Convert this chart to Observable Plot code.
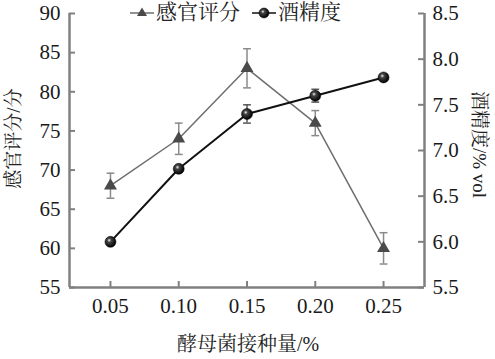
<!DOCTYPE html>
<html>
<head>
<meta charset="utf-8">
<script src="https://cdn.jsdelivr.net/npm/d3@7"></script>
<script src="https://cdn.jsdelivr.net/npm/@observablehq/plot@0.6"></script>
<style>
  html, body { margin: 0; padding: 0; background: #fff; }
  #wrap { position: relative; width: 495px; height: 359px; }
  #wrap svg text { font-family: 'Liberation Serif', 'Noto Serif CJK SC', serif !important; }
  #legend { position: absolute; top: -3px; left: 128px; display: flex; align-items: center;
    font-family: 'Liberation Serif', 'Noto Serif CJK SC', serif; font-size: 21px; line-height: 30px; color: #222; }
  #legend span { display: inline-flex; align-items: center; }
</style>
</head>
<body>
<div id="wrap"></div>
<script>
// Data
const doses = [0.05, 0.10, 0.15, 0.20, 0.25];
const sensory = [68, 74, 83, 76, 60];
const sensoryErr = [1.6, 2.0, 2.5, 1.6, 2.0];
const alcohol = [6.0, 6.8, 7.4, 7.6, 7.8];
const alcoholErr = [0.03, 0.03, 0.1, 0.07, 0.03];
const leftTicks = [55, 60, 65, 70, 75, 80, 85, 90];
const rightTicks = [5.5, 6.0, 6.5, 7.0, 7.5, 8.0, 8.5];
const xTicks = [0.05, 0.10, 0.15, 0.20, 0.25];
const labels = { x: "酵母菌接种量/%", yLeft: "感官评分/分", yRight: "酒精度/% vol", s1: "感官评分", s2: "酒精度" };

// Map right-axis (alcohol) values onto the left scale
const toLeft = v => 55 + (v - 5.5) * 35 / 3;

const sData = doses.map((x, i) => ({x, y: sensory[i], lo: sensory[i] - sensoryErr[i], hi: sensory[i] + sensoryErr[i]}));
const aData = doses.map((x, i) => ({x, y: toLeft(alcohol[i]), lo: toLeft(alcohol[i] - alcoholErr[i]), hi: toLeft(alcohol[i] + alcoholErr[i])}));

const W = 495, H = 359, mL = 69, mR = 71, mT = 13, mB = 72;
const pw = W - mL - mR, ph = H - mT - mB;

const cap = { draw(ctx, size) { const w = Math.sqrt(size); ctx.moveTo(-w, 0); ctx.lineTo(w, 0); } };
const axisColor = "#808080";
const font = "'Liberation Serif', 'Noto Serif CJK SC', serif";

const plot = Plot.plot({
  width: W, height: H,
  marginLeft: mL, marginRight: mR, marginTop: mT, marginBottom: mB,
  style: { fontFamily: font, fontSize: "20px", color: "#222", background: "#fff", overflow: "visible" },
  x: { domain: [0.02, 0.28] },
  y: { domain: [55, 90] },
  marks: [
    // axis lines
    Plot.ruleX([0.02], { stroke: axisColor, strokeWidth: 2.5 }),
    Plot.ruleX([0.28], { stroke: axisColor, strokeWidth: 2.5 }),
    Plot.ruleY([55], { stroke: axisColor, strokeWidth: 2.5 }),
    // inward ticks
    Plot.tickY(leftTicks, { y: d => d, stroke: axisColor, strokeWidth: 2, insetRight: pw - 6 }),
    Plot.tickY(rightTicks.map(toLeft), { y: d => d, stroke: axisColor, strokeWidth: 2, insetLeft: pw - 6 }),
    Plot.tickX(xTicks, { x: d => d, stroke: axisColor, strokeWidth: 2, insetTop: ph - 6 }),
    // tick labels
    Plot.axisY({ anchor: "left", ticks: leftTicks, tickSize: 0, tickPadding: 9, label: null, fontSize: 21, fill: "#1a1a1a" }),
    Plot.axisY({ anchor: "right", ticks: rightTicks.map(toLeft), tickSize: 0, tickPadding: 8, label: null, fontSize: 21, fill: "#1a1a1a",
      tickFormat: d => (5.5 + (d - 55) * 3 / 35).toFixed(1) }),
    Plot.axisX({ ticks: xTicks, tickSize: 0, tickPadding: 11, label: null, fontSize: 21, fill: "#1a1a1a", tickFormat: d => d.toFixed(2) }),
    // axis titles
    Plot.text([labels.yLeft], { frameAnchor: "left", textAnchor: "middle", lineAnchor: "middle", dx: -56, dy: -12, rotate: -90, fontSize: 19, fill: "#222" }),
    Plot.text([labels.yRight], { frameAnchor: "right", textAnchor: "middle", lineAnchor: "middle", dx: 55, dy: -6, rotate: 90, fontSize: 19, fill: "#222" }),
    Plot.text([labels.x], { frameAnchor: "bottom", textAnchor: "middle", lineAnchor: "middle", dy: 57, dx: 1, fontSize: 20, fill: "#222" }),
    // sensory error bars and line
    Plot.ruleX(sData, { x: "x", y1: "lo", y2: "hi", stroke: "#8a8a8a", strokeWidth: 1.5 }),
    Plot.dot(sData, { x: "x", y: "lo", symbol: cap, r: 2.2, stroke: "#8a8a8a", strokeWidth: 1.5, fill: "none" }),
    Plot.dot(sData, { x: "x", y: "hi", symbol: cap, r: 2.2, stroke: "#8a8a8a", strokeWidth: 1.5, fill: "none" }),
    Plot.line(sData, { x: "x", y: "y", stroke: "#6e6e6e", strokeWidth: 1.5 }),
    // alcohol error bars and line
    Plot.ruleX(aData, { x: "x", y1: "lo", y2: "hi", stroke: "#555", strokeWidth: 1.5 }),
    Plot.dot(aData, { x: "x", y: "lo", symbol: cap, r: 2.2, stroke: "#555", strokeWidth: 1.5, fill: "none" }),
    Plot.dot(aData, { x: "x", y: "hi", symbol: cap, r: 2.2, stroke: "#555", strokeWidth: 1.5, fill: "none" }),
    Plot.line(aData, { x: "x", y: "y", stroke: "#111", strokeWidth: 2 }),
    // markers
    Plot.dot(sData, { x: "x", y: "y", symbol: "triangle", r: 4.8, fill: "#4a4a4a", stroke: "none" }),
    Plot.dot(aData, { x: "x", y: "y", r: 5.5, fill: "url(#sphere)", stroke: "#000", strokeWidth: 0.5 })
  ]
});

const defs = d3.select(plot).insert("defs", ":first-child");
const g = defs.append("radialGradient").attr("id", "sphere").attr("cx", "40%").attr("cy", "40%").attr("r", "60%").attr("fx", "38%").attr("fy", "35%");
g.append("stop").attr("offset", "0%").attr("stop-color", "#f0f0f0");
g.append("stop").attr("offset", "30%").attr("stop-color", "#444");
g.append("stop").attr("offset", "100%").attr("stop-color", "#000");

const wrap = document.getElementById("wrap");
wrap.appendChild(plot);

// Legend
const legend = document.createElement("div");
legend.id = "legend";
legend.innerHTML =
  `<span><svg width="28" height="20" viewBox="0 0 28 20"><line x1="2" y1="11" x2="26" y2="11" stroke="#6e6e6e" stroke-width="1.5"/><path d="M14,5.5 L19,14 L9,14 Z" fill="#4a4a4a"/></svg>${labels.s1}</span>` +
  `<span style="margin-left:10px"><svg width="28" height="20" viewBox="0 0 28 20"><line x1="2" y1="11" x2="26" y2="11" stroke="#111" stroke-width="1.5"/><circle cx="14" cy="11" r="5" fill="url(#sphere)" stroke="#000" stroke-width="0.5"/></svg>${labels.s2}</span>`;
wrap.appendChild(legend);
</script>
</body>
</html>
